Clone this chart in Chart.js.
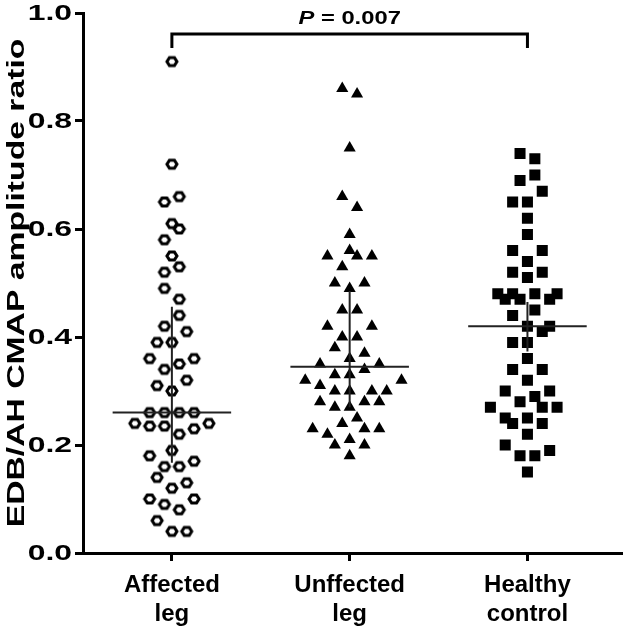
<!DOCTYPE html>
<html>
<head>
<meta charset="utf-8">
<script src="https://cdn.jsdelivr.net/npm/chart.js@4"></script>
<style>
  html, body { margin: 0; padding: 0; background: #fff; }
</style>
</head>
<body>
<canvas id="chart" width="630" height="639"></canvas>
<script>
const categories = [["Affected", "leg"], ["Unffected", "leg"], ["Healthy", "control"]];
const yTicks = [0, 0.2, 0.4, 0.6, 0.8, 1.0];
const yTitle = "EDB/AH CMAP amplitude ratio";
const pText = ["P", " = 0.007"];

// values, slot = sideways place in the swarm
const affectedValues = [0.91, 0.72, 0.65, 0.66, 0.61, 0.60, 0.58, 0.55, 0.53, 0.52,
    0.49, 0.47, 0.44, 0.42, 0.41, 0.39, 0.39, 0.36, 0.35, 0.36, 0.34, 0.31, 0.32, 0.30,
    0.26, 0.26, 0.26, 0.26, 0.24, 0.235, 0.235, 0.22, 0.23, 0.24, 0.19,
    0.18, 0.16, 0.16, 0.17, 0.14, 0.12, 0.13, 0.10, 0.10, 0.09, 0.08, 0.06, 0.04, 0.04];
const affectedSlots = [0, 0, -1, 1, 0, 1, -1, 0, 1, -1,
    -1, 1, 1, -1, 2, -2, 0, -3, 1, 3, -1, -2, 2, 0,
    -3, -1, 1, 3, -5, -3, -1, 1, 3, 5, 0,
    -3, -1, 1, 3, -2, 0, 2, -3, 3, -1, 1, -2, 0, 2];

const unaffectedValues = [0.86, 0.85, 0.75, 0.66, 0.64, 0.59, 0.56, 0.55, 0.55, 0.55,
    0.53, 0.50, 0.50, 0.49, 0.45, 0.45, 0.42, 0.42, 0.40, 0.40, 0.38, 0.37, 0.36,
    0.35, 0.35, 0.34, 0.33, 0.33, 0.32, 0.32, 0.31, 0.30, 0.30, 0.30, 0.30,
    0.28, 0.28, 0.28, 0.27, 0.27, 0.25, 0.24, 0.23, 0.23, 0.23, 0.22, 0.21, 0.20, 0.20, 0.18];
const unaffectedSlots = [-1, 1, 0, -1, 1, 0, 0, -3, 1, 3,
    -1, -2, 2, 0, -1, 1, -3, 3, -1, 1, -2, 2, 0,
    -4, 4, 2, -2, 0, -6, 7, -4, -2, 0, 3, 5,
    -4, 2, 4, -2, 0, 1, -1, -5, 2, 4, -3, 0, -2, 2, 0];

const healthyValues = [0.74, 0.73, 0.70, 0.69, 0.67, 0.65, 0.65, 0.62, 0.59, 0.56, 0.56,
    0.54, 0.52, 0.52, 0.51, 0.48, 0.48, 0.48, 0.48, 0.47, 0.47, 0.47, 0.45, 0.44,
    0.42, 0.42, 0.41, 0.39, 0.39, 0.36, 0.34, 0.34, 0.32, 0.30, 0.30, 0.29, 0.28,
    0.27, 0.27, 0.27, 0.25, 0.25, 0.24, 0.24, 0.22, 0.20, 0.19, 0.18, 0.18, 0.15];
const healthySlots = [-1, 1, 1, -1, 2, -2, 0, 0, 0, -2, 2,
    0, -2, 2, 0, -4, -2, 1, 4, -3, -1, 3, 1, -2,
    0, 3, 2, -2, 0, 0, -2, 2, 0, -3, 3, 1, -1,
    -5, 2, 4, -3, 0, -2, 2, 0, -3, 3, -1, 1, 0];

// median line and error bar per group
const medians = [0.26, 0.345, 0.42];
const barLow = [0.167, 0.27, 0.373];
const barHigh = [0.456, 0.485, 0.465];

// significance bracket between group 0 and 2
const bracketGroups = [0, 2];
const bracketTop = 0.961;
const bracketFoot = 0.935;

const slotWidth = 1 / 24;
const medianHalf = 1 / 3;
const FONT = "'Liberation Sans', Arial, sans-serif";

// hexagon outline marker
function hexagon() {
    const c = document.createElement("canvas");
    c.width = 16;
    c.height = 14;
    const g = c.getContext("2d");
    const r = 5;
    g.beginPath();
    for (let i = 0; i < 6; i++) {
        const a = Math.PI / 3 * i;
        const px = 8 + r * Math.cos(a);
        const py = 7 + r * 0.9 * Math.sin(a);
        if (i === 0) g.moveTo(px, py); else g.lineTo(px, py);
    }
    g.closePath();
    g.lineWidth = 3;
    g.strokeStyle = "#000";
    g.stroke();
    return c;
}

function toPoints(group, values, slots) {
    return values.map((v, i) => ({ x: group + slots[i] * slotWidth, y: v }));
}

const datasets = [
    {
        data: toPoints(0, affectedValues, affectedSlots),
        pointStyle: hexagon(),
        order: 3
    },
    {
        data: toPoints(1, unaffectedValues, unaffectedSlots),
        pointStyle: "triangle",
        pointRadius: 7,
        backgroundColor: "#000",
        borderColor: "#000",
        borderWidth: 0,
        order: 3
    },
    {
        data: toPoints(2, healthyValues, healthySlots),
        pointStyle: "rect",
        pointRadius: 7.8,
        backgroundColor: "#000",
        borderColor: "#000",
        borderWidth: 0,
        order: 3
    }
];

medians.forEach((m, g) => {
    datasets.push({
        data: [{ x: g - medianHalf, y: m }, { x: g + medianHalf, y: m }],
        showLine: true, pointRadius: 0, borderColor: "#222", borderWidth: 2, order: 1
    });
    datasets.push({
        data: [{ x: g, y: barLow[g] }, { x: g, y: barHigh[g] }],
        showLine: true, pointRadius: 0, borderColor: "#222", borderWidth: 2, order: 1
    });
});

datasets.push({
    data: [
        { x: bracketGroups[0], y: bracketFoot },
        { x: bracketGroups[0], y: bracketTop },
        { x: bracketGroups[1], y: bracketTop },
        { x: bracketGroups[1], y: bracketFoot }
    ],
    showLine: true, pointRadius: 0, borderColor: "#000", borderWidth: 3,
    clip: false, order: 1
});

// draws the wide bold texts (tick numbers, y title, P value)
const textPlugin = {
    id: "texts",
    afterDraw(chart) {
        const ctx = chart.ctx;
        const area = chart.chartArea;
        const xs = chart.scales.x;
        const ys = chart.scales.y;

        // y tick numbers
        ctx.save();
        ctx.fillStyle = "#000";
        ctx.font = "bold 22px " + FONT;
        ctx.textAlign = "right";
        ctx.textBaseline = "middle";
        yTicks.forEach(v => {
            ctx.save();
            ctx.translate(area.left - 11, ys.getPixelForValue(v) + 1);
            ctx.scale(1.45, 1);
            ctx.fillText(v.toFixed(1), 0, 0);
            ctx.restore();
        });
        ctx.restore();

        // y axis title
        ctx.save();
        ctx.fillStyle = "#000";
        ctx.font = "bold 24px " + FONT;
        const w = ctx.measureText(yTitle).width;
        ctx.translate(17, (area.top + area.bottom) / 2);
        ctx.rotate(-Math.PI / 2);
        ctx.scale((area.bottom - area.top) * 0.905 / w, 1);
        ctx.textAlign = "center";
        ctx.textBaseline = "middle";
        ctx.fillText(yTitle, 0, 0);
        ctx.restore();

        // P value above bracket
        ctx.save();
        ctx.fillStyle = "#000";
        ctx.textBaseline = "alphabetic";
        const italic = "italic bold 19px " + FONT;
        const bold = "bold 19px " + FONT;
        ctx.font = italic;
        const w1 = ctx.measureText(pText[0]).width;
        ctx.font = bold;
        const w2 = ctx.measureText(pText[1]).width;
        const cx = (xs.getPixelForValue(bracketGroups[0]) + xs.getPixelForValue(bracketGroups[1])) / 2;
        const by = ys.getPixelForValue(bracketTop) - 10;
        ctx.translate(cx, by);
        ctx.scale(1.25, 1);
        const left = -(w1 + w2) / 2;
        ctx.font = italic;
        ctx.fillText(pText[0], left, 0);
        ctx.font = bold;
        ctx.fillText(pText[1], left + w1, 0);
        ctx.restore();
    }
};

new Chart(document.getElementById("chart"), {
    type: "scatter",
    data: { datasets: datasets },
    plugins: [textPlugin],
    options: {
        responsive: false,
        animation: false,
        layout: { padding: { top: 13, right: 0, left: 0, bottom: 0 } },
        plugins: {
            legend: { display: false },
            tooltip: { enabled: false }
        },
        scales: {
            x: {
                type: "linear",
                min: -0.5,
                max: 2.533,
                afterBuildTicks: (scale) => {
                    scale.ticks = categories.map((c, i) => ({ value: i }));
                },
                afterFit: (scale) => { scale.height = 86; },
                ticks: {
                    color: "#000",
                    padding: 10,
                    font: { family: FONT, size: 24, weight: "bold", lineHeight: 1.2 },
                    callback: (v) => categories[v]
                },
                grid: { drawOnChartArea: false, drawTicks: true, tickLength: 8, tickWidth: 3, tickColor: "#000" },
                border: { color: "#000", width: 3 }
            },
            y: {
                min: 0,
                max: 1,
                afterBuildTicks: (scale) => {
                    scale.ticks = yTicks.map(v => ({ value: v }));
                },
                afterFit: (scale) => { scale.width = 83; },
                ticks: { display: false },
                grid: { drawOnChartArea: false, drawTicks: true, tickLength: 8, tickWidth: 3, tickColor: "#000" },
                border: { color: "#000", width: 3 }
            }
        }
    }
});
</script>
</body>
</html>
